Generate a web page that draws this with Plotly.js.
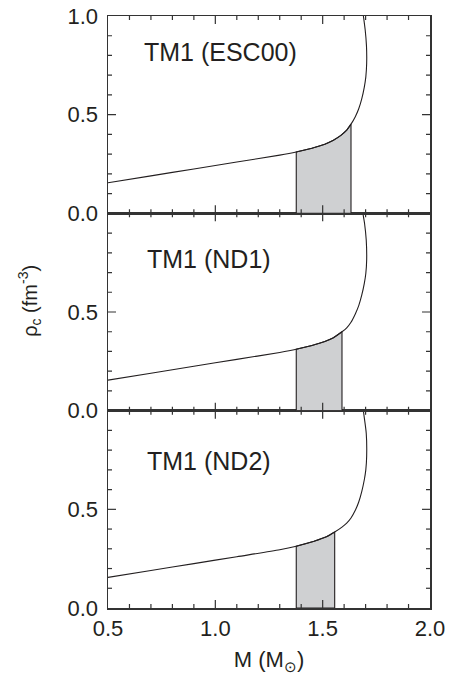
<!DOCTYPE html>
<html><head><meta charset="utf-8">
<script src="https://cdn.plot.ly/plotly-3.0.1.min.js"></script>
<style>html,body{margin:0;padding:0;background:#fff}</style>
</head><body><div id="chart" style="width:449px;height:675px"></div>
<script>
// ---- data ----
const panelLabels = ['TM1 (ESC00)', 'TM1 (ND1)', 'TM1 (ND2)'];
const labelM = [0.657, 0.672, 0.672];
const labelRho = [0.817, 0.77, 0.745];

const massESC00 = [0.5, 0.7, 0.9, 1.1, 1.3, 1.377, 1.45, 1.51, 1.55, 1.585, 1.612, 1.632, 1.652, 1.668, 1.682, 1.694, 1.701, 1.705, 1.704, 1.698, 1.691, 1.686];
const rhoESC00  = [0.155, 0.19, 0.225, 0.26, 0.295, 0.311, 0.33, 0.35, 0.37, 0.395, 0.422, 0.452, 0.49, 0.53, 0.58, 0.64, 0.69, 0.76, 0.85, 0.93, 0.99, 1.03];

const massND1 = [0.5, 0.7, 0.9, 1.1, 1.3, 1.377, 1.45, 1.51, 1.55, 1.59, 1.612, 1.632, 1.652, 1.668, 1.682, 1.694, 1.701, 1.705, 1.703, 1.695, 1.689, 1.685];
const rhoND1  = [0.155, 0.19, 0.225, 0.26, 0.295, 0.311, 0.33, 0.35, 0.37, 0.40, 0.42, 0.448, 0.49, 0.532, 0.585, 0.645, 0.695, 0.765, 0.865, 0.95, 0.99, 1.03];

const massND2 = [0.5, 0.7, 0.9, 1.1, 1.3, 1.377, 1.46, 1.52, 1.556, 1.59, 1.612, 1.632, 1.652, 1.668, 1.682, 1.694, 1.701, 1.705, 1.703, 1.691, 1.687];
const rhoND2  = [0.155, 0.19, 0.225, 0.26, 0.295, 0.313, 0.338, 0.362, 0.385, 0.41, 0.43, 0.456, 0.495, 0.537, 0.59, 0.65, 0.70, 0.77, 0.886, 0.988, 1.03];

const shadeLow  = [1.377, 1.377, 1.377];
const shadeHigh = [1.632, 1.590, 1.556];

const xTickVals = [0.5, 1.0, 1.5, 2.0];
const xTickText = ['0.5', '1.0', '1.5', '2.0'];
const yTickVals = [0, 0.5, 1.0];
const yTickTextTop = ['0.0', '0.5', '1.0'];
const yTickTextLow = ['0.0', '0.5', ''];

// tick-mark positions (inner ones; the ends sit on the frame)
const xMarkVals = [0.6, 0.7, 0.8, 0.9, 1.0, 1.1, 1.2, 1.3, 1.4, 1.5, 1.6, 1.7, 1.8, 1.9];
const xMajorMarks = [1.0, 1.5];
const yMarkVals = [0.1, 0.2, 0.3, 0.4, 0.5, 0.6, 0.7, 0.8, 0.9];
const yMajorMarks = [0.5];

// ---- layout geometry ----
const W = 449, H = 675;
const margin = {l: 108, r: 19, t: 16, b: 67};
const xRange = [0.5, 2.0], yRange = [0, 1.0];
const plotW = W - margin.l - margin.r;
const panelH = (H - margin.t - margin.b) / 3;
const pxPerX = plotW / (xRange[1] - xRange[0]);
const pxPerY = panelH / (yRange[1] - yRange[0]);

// ---- build ----
const masses = [massESC00, massND1, massND2];
const rhos = [rhoESC00, rhoND1, rhoND2];
const axIds = [['x3', 'y3'], ['x2', 'y2'], ['x', 'y']];
const ink = '#231f20';
const frame = '#333333';
const shadeCol = '#cfd0d2';

const traces = [];
const annotations = [];
for (let i = 0; i < 3; i++) {
  const M = masses[i], R = rhos[i];
  const xr = axIds[i][0], yr = axIds[i][1];
  const sx = [shadeLow[i]], sy = [0];
  for (let k = 0; k < M.length; k++) {
    if (M[k] >= shadeLow[i] && M[k] <= shadeHigh[i] && R[k] < 0.6) { sx.push(M[k]); sy.push(R[k]); }
  }
  sx.push(shadeHigh[i]); sy.push(0);
  sx.push(shadeLow[i]); sy.push(0);
  traces.push({
    x: sx, y: sy, xaxis: xr, yaxis: yr,
    type: 'scatter', mode: 'lines', fill: 'toself', fillcolor: shadeCol,
    line: {color: ink, width: 1.1}
  });
  traces.push({
    x: M, y: R, xaxis: xr, yaxis: yr,
    type: 'scatter', mode: 'lines',
    line: {color: ink, width: 1.1, shape: 'spline', smoothing: 0.7}
  });
  // inside tick marks on all four sides, drawn as line segments
  const tx = [], ty = [];
  xMarkVals.forEach(v => {
    const L = (xMajorMarks.includes(v) ? 8 : 4) / pxPerY;
    tx.push(v, v, null, v, v, null);
    ty.push(yRange[0], yRange[0] + L, null, yRange[1], yRange[1] - L, null);
  });
  yMarkVals.forEach(v => {
    const L = (yMajorMarks.includes(v) ? 8 : 4) / pxPerX;
    tx.push(xRange[0], xRange[0] + L, null, xRange[1], xRange[1] - L, null);
    ty.push(v, v, null, v, v, null);
  });
  traces.push({
    x: tx, y: ty, xaxis: xr, yaxis: yr,
    type: 'scatter', mode: 'lines', connectgaps: false,
    line: {color: frame, width: 1.2}, hoverinfo: 'skip'
  });
  annotations.push({
    text: panelLabels[i], xref: xr, yref: yr,
    x: labelM[i], y: labelRho[i], xanchor: 'left', yanchor: 'middle',
    showarrow: false, font: {family: 'Liberation Sans, Arial, sans-serif', size: 25, color: ink}
  });
}
annotations.push({
  text: 'ρ<sub>c</sub> (fm<sup>-3</sup>)', xref: 'paper', yref: 'paper',
  x: -0.242, y: 0.519, xanchor: 'center', yanchor: 'middle', textangle: -90,
  showarrow: false, font: {family: 'Liberation Sans, Arial, sans-serif', size: 20, color: ink}
});

const tickFont = {family: 'Liberation Sans, Arial, sans-serif', size: 22, color: ink};
function common() {
  return {
    ticks: '', showline: true, linecolor: frame, linewidth: 1.5, mirror: true,
    showgrid: false, zeroline: false, tickfont: tickFont
  };
}
function xAxis(anchor, labels) {
  return Object.assign(common(), {
    anchor: anchor, range: xRange,
    tickmode: 'array', tickvals: xTickVals, ticktext: xTickText,
    showticklabels: labels
  });
}
function yAxis(anchor, domain, texts) {
  return Object.assign(common(), {
    anchor: anchor, range: yRange, domain: domain,
    tickmode: 'array', tickvals: yTickVals, ticktext: texts,
    ticklabelstandoff: 4
  });
}

const xa = xAxis('y', true);
xa.title = {text: 'M (M<sub>⊙</sub>)', font: {family: 'Liberation Sans, Arial, sans-serif', size: 22, color: ink}};

const layout = {
  width: W, height: H,
  margin: margin,
  paper_bgcolor: '#fff', plot_bgcolor: '#fff',
  showlegend: false,
  xaxis: xa,
  yaxis: yAxis('x', [0, 1/3], yTickTextLow),
  xaxis2: xAxis('y2', false),
  yaxis2: yAxis('x2', [1/3, 2/3], yTickTextLow),
  xaxis3: xAxis('y3', false),
  yaxis3: yAxis('x3', [2/3, 1], yTickTextTop),
  annotations: annotations
};

Plotly.newPlot('chart', traces, layout, {staticPlot: true, displayModeBar: false});
</script></body></html>
